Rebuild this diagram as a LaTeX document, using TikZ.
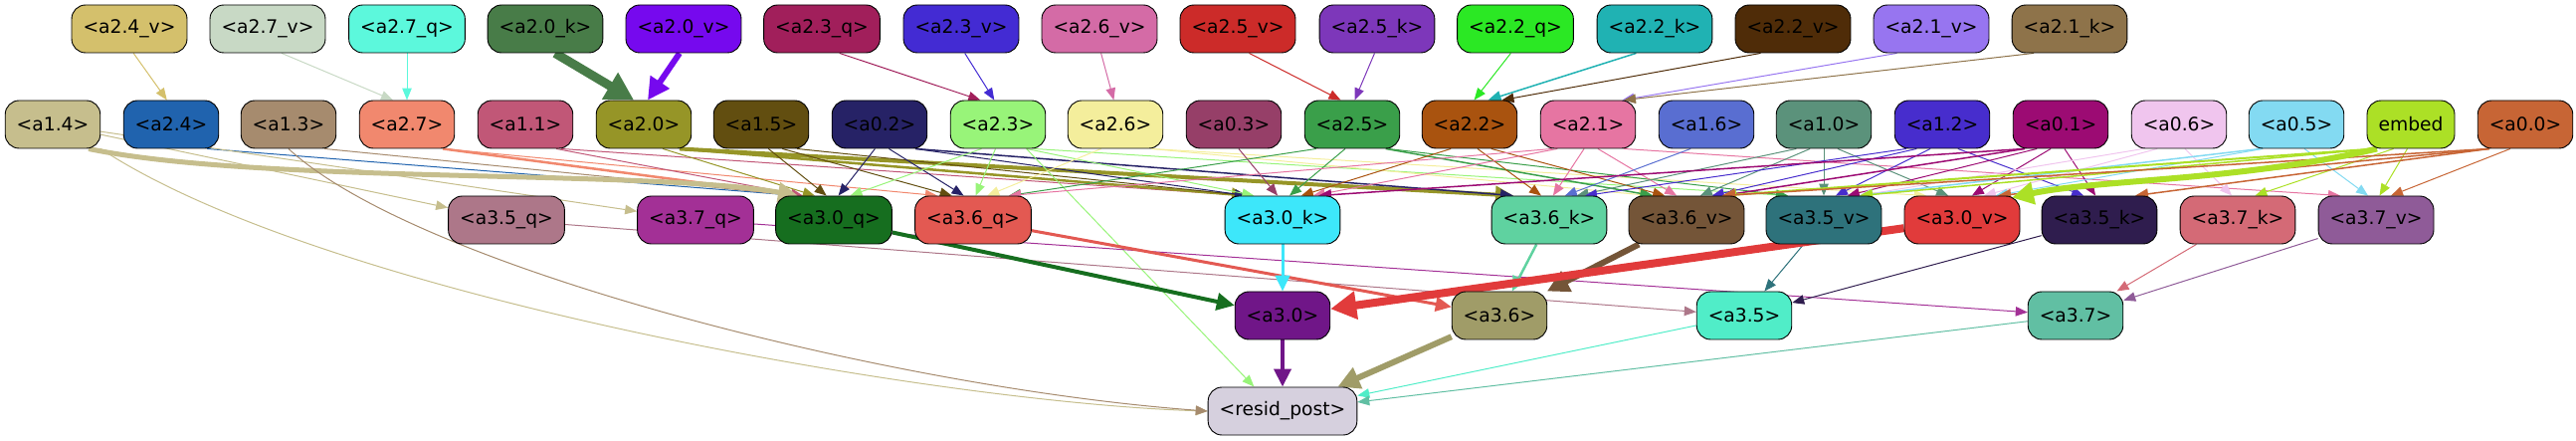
\documentclass[tikz,border=0pt]{standalone}
\usepackage{fontspec}
\setmainfont{DejaVu Sans}
\usepackage{tikz}
\usetikzlibrary{arrows.meta,calc}
\pgfdeclarelayer{bg}
\pgfsetlayers{bg,main}

% node colours, named c + node name
\definecolor{ca24v}{HTML}{D4C06C}
\definecolor{ca27v}{HTML}{C8D9C5}
\definecolor{ca27q}{HTML}{5CF8DC}
\definecolor{ca20k}{HTML}{487C48}
\definecolor{ca20v}{HTML}{7609EE}
\definecolor{ca23q}{HTML}{A11F5B}
\definecolor{ca23v}{HTML}{432BD3}
\definecolor{ca26v}{HTML}{D46BA6}
\definecolor{ca25v}{HTML}{CC2B29}
\definecolor{ca25k}{HTML}{7D37BA}
\definecolor{ca22q}{HTML}{2BE824}
\definecolor{ca22k}{HTML}{20B2B3}
\definecolor{ca22v}{HTML}{4F2C08}
\definecolor{ca21v}{HTML}{9775F0}
\definecolor{ca21k}{HTML}{8E734A}
\definecolor{ca14}{HTML}{C6BE8D}
\definecolor{ca24}{HTML}{2063AE}
\definecolor{ca13}{HTML}{A68B6E}
\definecolor{ca27}{HTML}{F1886E}
\definecolor{ca11}{HTML}{C15777}
\definecolor{ca20}{HTML}{969527}
\definecolor{ca15}{HTML}{624E10}
\definecolor{ca02}{HTML}{262266}
\definecolor{ca23}{HTML}{98F479}
\definecolor{ca26}{HTML}{F4EE9C}
\definecolor{ca03}{HTML}{963F68}
\definecolor{ca25}{HTML}{3A9F4A}
\definecolor{ca22}{HTML}{A9530F}
\definecolor{ca21}{HTML}{E675A2}
\definecolor{ca16}{HTML}{596ED1}
\definecolor{ca10}{HTML}{5B927B}
\definecolor{ca12}{HTML}{472DCD}
\definecolor{ca01}{HTML}{9C0B73}
\definecolor{ca06}{HTML}{F0C5EE}
\definecolor{ca05}{HTML}{83DAF2}
\definecolor{cemb}{HTML}{ACE026}
\definecolor{ca00}{HTML}{C76535}
\definecolor{ca35q}{HTML}{AD7789}
\definecolor{ca37q}{HTML}{A33096}
\definecolor{ca30q}{HTML}{166E1F}
\definecolor{ca36q}{HTML}{E35952}
\definecolor{ca30k}{HTML}{3DE7FA}
\definecolor{ca36k}{HTML}{5FD2A0}
\definecolor{ca36v}{HTML}{745538}
\definecolor{ca35v}{HTML}{2E727B}
\definecolor{ca30v}{HTML}{E13B3B}
\definecolor{ca35k}{HTML}{2F1D4E}
\definecolor{ca37k}{HTML}{D46A76}
\definecolor{ca37v}{HTML}{8F5B98}
\definecolor{ca30}{HTML}{701688}
\definecolor{ca36}{HTML}{A09C68}
\definecolor{ca35}{HTML}{50EDC8}
\definecolor{ca37}{HTML}{61BFA3}
\definecolor{cresid}{HTML}{D6D0DE}

\tikzset{
  blk/.style={draw=black, line width=0.9pt, rounded corners=14pt, minimum height=48pt,
    inner xsep=11.5pt, font=\fontsize{18.7}{22}\selectfont, text=black},
  wire/.style={-{Triangle[length=10pt 2, width=7pt 2.5]}, line width=1pt}
}
\newcommand{\hnode}[4]{\node[blk,fill=c#1] (#1) at (#2,#3) {#4};}

\begin{document}
\begin{tikzpicture}[x=1pt,y=-1pt]
\useasboundingbox (0,0) rectangle (2589,443);

% top row
\foreach \n/\x/\lab in {a24v/130/{<a2.4\_v>}, a27v/269/{<a2.7\_v>}, a27q/409/{<a2.7\_q>},
  a20k/548/{<a2.0\_k>}, a20v/687/{<a2.0\_v>}, a23q/826/{<a2.3\_q>}, a23v/966/{<a2.3\_v>},
  a26v/1105/{<a2.6\_v>}, a25v/1244/{<a2.5\_v>}, a25k/1384/{<a2.5\_k>}, a22q/1523/{<a2.2\_q>},
  a22k/1663/{<a2.2\_k>}, a22v/1802/{<a2.2\_v>}, a21v/1941/{<a2.1\_v>}, a21k/2080/{<a2.1\_k>}}
  {\hnode{\n}{\x}{29}{\lab}}

% second row
\foreach \n/\x/\lab in {a14/53/{<a1.4>}, a24/172/{<a2.4>}, a13/290/{<a1.3>}, a27/409/{<a2.7>},
  a11/528/{<a1.1>}, a20/647/{<a2.0>}, a15/765/{<a1.5>}, a02/884/{<a0.2>}, a23/1003/{<a2.3>},
  a26/1121/{<a2.6>}, a03/1240/{<a0.3>}, a25/1359/{<a2.5>}, a22/1477/{<a2.2>}, a21/1596/{<a2.1>},
  a16/1715/{<a1.6>}, a10/1833/{<a1.0>}, a12/1952/{<a1.2>}, a01/2071/{<a0.1>}, a06/2190/{<a0.6>},
  a05/2308/{<a0.5>}, emb/2423/{embed}, a00/2538/{<a0.0>}}
  {\hnode{\n}{\x}{125}{\lab}}

% third row
\foreach \n/\x/\lab in {a35q/509/{<a3.5\_q>}, a37q/699/{<a3.7\_q>}, a30q/838/{<a3.0\_q>},
  a36q/978/{<a3.6\_q>}, a30k/1289/{<a3.0\_k>}, a36k/1557/{<a3.6\_k>}, a36v/1695/{<a3.6\_v>},
  a35v/1833/{<a3.5\_v>}, a30v/1972/{<a3.0\_v>}, a35k/2110/{<a3.5\_k>}, a37k/2249/{<a3.7\_k>},
  a37v/2388/{<a3.7\_v>}}
  {\hnode{\n}{\x}{221}{\lab}}

% heads and output
\foreach \n/\x/\lab in {a30/1289/{<a3.0>}, a36/1507/{<a3.6>}, a35/1753/{<a3.5>}, a37/2086/{<a3.7>}}
  {\hnode{\n}{\x}{317}{\lab}}
\hnode{resid}{1289}{413}{<resid\_post>}

\begin{pgfonlayer}{bg}
% feeding edges, bottom side to top side: source/target/width
\foreach \s/\e/\w in {a24v/a24/1, a27v/a27/1, a27q/a27/1, a20k/a20/9, a20v/a20/6,
  a23q/a23/1, a23v/a23/1, a26v/a26/1, a25v/a25/1, a25k/a25/1, a22q/a22/1, a22k/a22/1.5,
  a22v/a22/1, a21v/a21/1, a21k/a21/1,
  a24/a30q/1, a13/a30q/1, a27/a30q/2.5, a27/a36q/1,
  a11/a30q/1, a11/a30k/1, a20/a30q/1, a20/a30k/2.5, a20/a36k/4,
  a15/a30q/1, a15/a36q/1, a15/a30k/1, a02/a30q/1, a02/a36q/1, a02/a30k/1, a02/a36k/1.5,
  a23/a30q/1, a23/a36q/1, a23/a30k/1, a23/resid/1, a23/a35v/1,
  a26/a36q/1, a26/a36v/1, a26/a30v/1, a03/a30k/1,
  a25/a30k/1, a25/a36q/1, a25/a36v/1.5, a25/a35v/1,
  a22/a30k/1, a22/a36k/1, a22/a36v/1,
  a21/a30k/1, a21/a36q/1, a21/a36k/1, a21/a36v/1, a21/a37v/1,
  a16/a36k/1, a10/a36k/1, a10/a36v/1, a10/a35v/1, a10/a30v/1,
  a12/a36k/1, a12/a36v/1, a12/a35v/1, a12/a35k/1,
  a01/a30k/1.5, a01/a36v/1.5, a01/a30v/1, a01/a35k/1, a01/a35v/1,
  a06/a37k/1, a06/a30v/1, a06/a35v/1, a05/a37v/1, a05/a35v/1.5, a05/a30v/1,
  emb/a36v/2, emb/a37k/1, emb/a37v/1, emb/a35v/1.5,
  a00/a37v/1, a00/a35k/1.5, a00/a30v/1.5, a00/a36v/1.5}
  {\draw[wire, draw=c\s, line width=\w pt]
    let \p1=(\s.south), \p2=(\e.north), \n1={max(-36,min(36,0.1*(\x2-\x1)))}
    in (\x1+\n1, \y1) -- (\x2-\n1, \y2);}

% edges into the heads and the output
\foreach \s/\e/\w in {a14/a35q/1, a14/a37q/1,
  a35q/a35/1, a37q/a37/1, a30q/a30/4, a36q/a36/3, a30k/a30/3, a36k/a36/2.5,
  a36v/a36/6, a35v/a35/1, a30v/a30/8, a35k/a35/1, a37k/a37/1, a37v/a37/1,
  a30/resid/4, a36/resid/6, a35/resid/1, a37/resid/1}
  {\draw[wire, draw=c\s, line width=\w pt] (\s) -- (\e);}

% curved edges
\draw[wire, draw=ca14, line width=5pt] ($(a14.south)+(36,0)$)
  .. controls (260,185) and (650,170) .. ($(a30q.north)+(-36,0)$);
\draw[wire, draw=ca14] (a14.south east) .. controls (330,300) and (950,405) .. (resid.west);
\draw[wire, draw=ca13] (a13.south) .. controls (420,270) and (900,390) .. (resid.west);
\draw[wire, draw=cemb, line width=6pt] ($(emb.south)+(-34,0)$)
  .. controls (2250,182) and (2110,180) .. ($(a30v.north)+(50,2)$);
\end{pgfonlayer}

\end{tikzpicture}
\end{document}
